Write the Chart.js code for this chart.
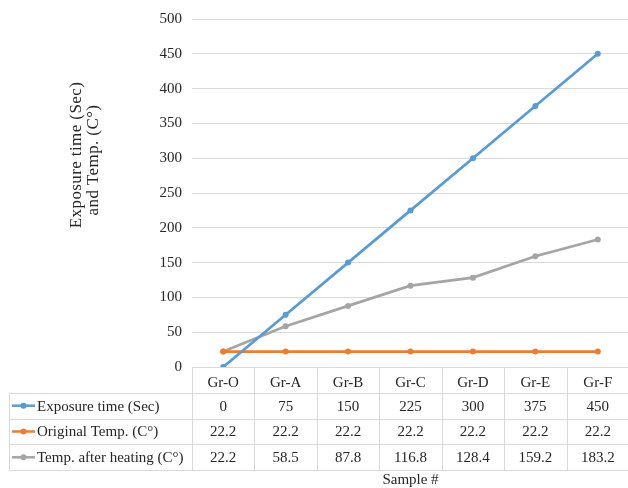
<!DOCTYPE html>
<html>
<head>
<meta charset="utf-8">
<script src="https://cdn.jsdelivr.net/npm/chart.js@4/dist/chart.umd.min.js"></script>
<style>
  html, body { margin: 0; padding: 0; background: #fff; overflow: hidden; }
  #wrap { position: relative; width: 632px; height: 488px; }
</style>
</head>
<body>
<div id="wrap"><canvas id="c" width="632" height="488"></canvas></div>
<script>
// Samples and measured series
const categories = ['Gr-O', 'Gr-A', 'Gr-B', 'Gr-C', 'Gr-D', 'Gr-E', 'Gr-F'];
const exposureTime = [0, 75, 150, 225, 300, 375, 450];
const originalTemp = [22.2, 22.2, 22.2, 22.2, 22.2, 22.2, 22.2];
const heatedTemp = [22.2, 58.5, 87.8, 116.8, 128.4, 159.2, 183.2];
const seriesNames = ['Exposure time (Sec)', 'Original Temp. (C°)', 'Temp. after heating (C°)'];
const yTitleLines = ['Exposure time (Sec)', 'and Temp. (C°)'];
const xTitle = 'Sample #';

const colors = ['#5b9bd5', '#ed7d31', '#a5a5a5'];
const FONT = "'Liberation Serif', 'Times New Roman', serif";
const TEXT = '#262626';
const RULE = '#d9d9d9';

// Data table under the plot, aligned to the category scale
const dataTable = {
  id: 'dataTable',
  afterDraw(chart) {
    const ctx = chart.ctx;
    const x = chart.scales.x;
    const area = chart.chartArea;
    const all = chart.data.datasets;
    const n = categories.length;
    const colW = x.getPixelForValue(1) - x.getPixelForValue(0);
    const left0 = x.getPixelForValue(0) - colW / 2;
    const right = left0 + colW * n;
    const top = area.bottom;
    const rowH = 25.8;
    const legendLeft = 9;

    ctx.save();
    ctx.strokeStyle = RULE;
    ctx.lineWidth = 1;
    ctx.beginPath();
    // header top and column separators
    ctx.moveTo(left0, top + 0.5); ctx.lineTo(right, top + 0.5);
    for (let i = 0; i <= n; i++) {
      const cx = Math.round(left0 + colW * i) + 0.5;
      ctx.moveTo(cx, top); ctx.lineTo(cx, top + rowH * 4);
    }
    // row rules across the legend column
    for (let r = 1; r <= 4; r++) {
      const y = Math.round(top + rowH * r) + 0.5;
      ctx.moveTo(legendLeft, y); ctx.lineTo(right, y);
    }
    ctx.moveTo(legendLeft + 0.5, top + rowH); ctx.lineTo(legendLeft + 0.5, top + rowH * 4);
    ctx.stroke();

    ctx.font = '15px ' + FONT;
    ctx.textBaseline = 'middle';
    all.forEach((ds, r) => {
      const cy = top + rowH * (r + 1) + rowH / 2;
      // legend key
      ctx.strokeStyle = ds.borderColor;
      ctx.lineWidth = 2.5;
      ctx.beginPath();
      ctx.moveTo(12, cy); ctx.lineTo(35, cy);
      ctx.stroke();
      ctx.fillStyle = ds.borderColor;
      ctx.beginPath();
      ctx.arc(23.5, cy, 3, 0, Math.PI * 2);
      ctx.fill();
      ctx.fillStyle = TEXT;
      ctx.textAlign = 'left';
      ctx.fillText(ds.label, 37, cy + 1);
      // values
      ctx.textAlign = 'center';
      ds.data.forEach((v, i) => {
        ctx.fillText(String(v), x.getPixelForValue(i), cy + 1);
      });
    });

    ctx.textAlign = 'center';
    ctx.fillText(xTitle, (left0 + right) / 2, top + rowH * 4 + 10);

    // vertical axis title, two lines
    ctx.font = '17px ' + FONT;
    ctx.letterSpacing = '0.4px';
    ctx.save();
    ctx.translate(77, 155);
    ctx.rotate(-Math.PI / 2);
    ctx.fillText(yTitleLines[0], 0, 0);
    ctx.restore();
    ctx.translate(94, 160);
    ctx.rotate(-Math.PI / 2);
    ctx.fillText(yTitleLines[1], 0, 0);
    ctx.restore();
  }
};

const mkSet = (label, data, color) => ({
  label, data,
  borderColor: color,
  backgroundColor: color,
  borderWidth: 2.75,
  pointRadius: 3,
  pointHoverRadius: 3,
  pointBorderWidth: 0,
  tension: 0
});

new Chart(document.getElementById('c'), {
  type: 'line',
  data: {
    labels: categories,
    datasets: [
      mkSet(seriesNames[0], exposureTime, colors[0]),
      mkSet(seriesNames[1], originalTemp, colors[1]),
      mkSet(seriesNames[2], heatedTemp, colors[2])
    ]
  },
  options: {
    responsive: false,
    animation: false,
    events: [],
    layout: { padding: { top: 18, left: 0, right: 0, bottom: 0 } },
    plugins: { legend: { display: false }, tooltip: { enabled: false } },
    scales: {
      x: {
        offset: true,
        grid: { display: false, drawTicks: false },
        border: { display: false },
        ticks: { color: TEXT, font: { family: FONT, size: 15 }, padding: 7, maxRotation: 0 },
        afterFit(s) { s.height = 121; }
      },
      y: {
        min: 0, max: 500,
        ticks: { stepSize: 50, color: TEXT, font: { family: FONT, size: 15 }, padding: 10 },
        grid: { color: RULE, drawTicks: false },
        border: { display: false },
        afterFit(s) { s.width = 192; }
      }
    }
  },
  plugins: [dataTable]
});
</script>
</body>
</html>
